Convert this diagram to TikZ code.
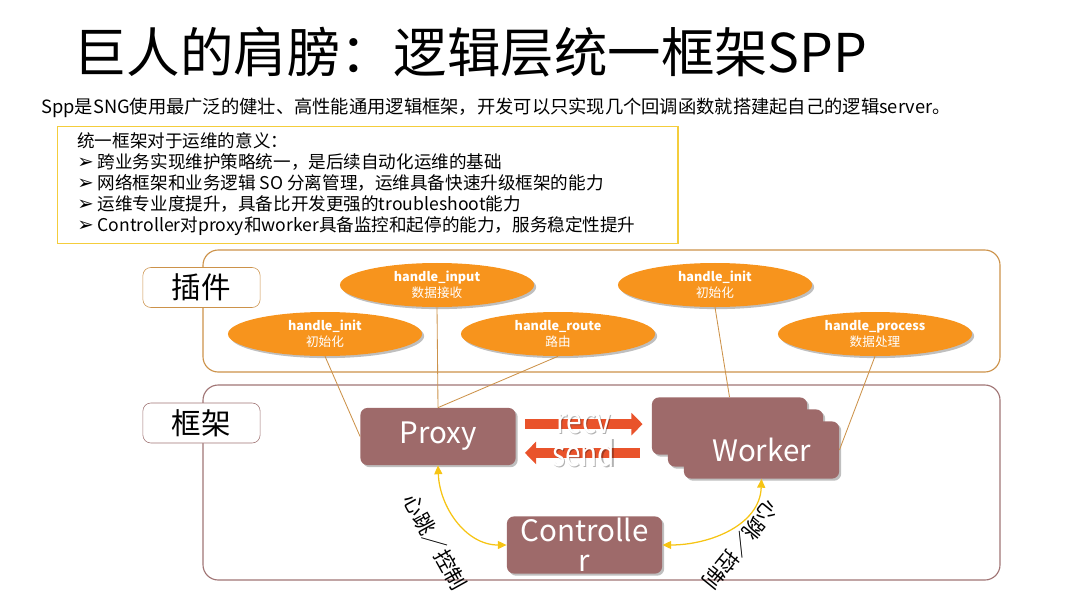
\documentclass[tikz,border=0pt]{standalone}
\usepackage{fontspec}
\setmainfont{Noto Sans CJK SC}
\newfontfamily\symfont{DejaVu Sans}
\usetikzlibrary{positioning,arrows.meta,shapes.geometric,shadows}
\definecolor{brick}{RGB}{158,106,106}
\definecolor{amber}{RGB}{247,148,29}
\definecolor{plugline}{RGB}{204,146,74}
\definecolor{frameline}{RGB}{160,116,116}
\definecolor{gold}{RGB}{244,205,60}
\definecolor{flowred}{RGB}{233,83,43}
\definecolor{beat}{RGB}{246,196,20}

\begin{document}
\begin{tikzpicture}[
  x=0.025cm, y=-0.025cm,
  softshadow/.style={drop shadow={shadow xshift=1.5pt, shadow yshift=-1.5pt, fill=black, opacity=0.25}},
  zone/.style={rounded corners=0.38cm, line width=0.8pt},
  tag/.style={draw, rounded corners=0.2cm, fill=white, minimum width=2.93cm, minimum height=1cm, font=\fontsize{21}{24}\selectfont},
  hook/.style={ellipse, fill=amber, text=white, minimum width=4.85cm, minimum height=1.1cm, inner sep=0pt, align=center, font=\fontsize{9}{11.5}\selectfont, softshadow},
  core/.style={rounded corners=0.18cm, fill=brick, text=white, minimum width=3.88cm, minimum height=1.43cm, inner sep=0pt, align=center, font=\fontsize{21}{21}\selectfont, softshadow},
  wire/.style={draw=plugline, line width=0.6pt},
  flow/.style={draw=flowred, line width=0.25cm, -{Triangle[length=0.28cm, width=0.55cm]}},
  flowtext/.style={text=white, inner sep=0pt, font=\fontsize{25}{25}\selectfont},
  flowshade/.style={flowtext, text=black, opacity=0.3, xshift=0.8pt, yshift=-0.8pt},
  beatline/.style={draw=beat, line width=0.9pt, {Triangle[length=2.2mm, width=2mm]}-{Triangle[length=2.2mm, width=2mm]}},
  beattext/.style={inner sep=0pt, font=\fontsize{15}{15}\selectfont}
]
\useasboundingbox (0,0) rectangle (1069,598);

% header
\node[anchor=west, inner sep=0pt, font=\fontsize{38}{40}\selectfont] (title) at (73,52) {巨人的肩膀：逻辑层统一框架SPP};
\node[anchor=west, inner sep=0pt, font=\fontsize{13}{15}\selectfont] (intro) at (41,108) {Spp是SNG使用最广泛的健壮、高性能通用逻辑框架，开发可以只实现几个回调函数就搭建起自己的逻辑server。};
\node[anchor=north west, draw=gold, line width=1pt, minimum width=15.5cm, minimum height=2.925cm] (meaning) at (57,126) {};
\node[anchor=north west, inner sep=0pt, align=left, font=\fontsize{12.5}{15}\selectfont] (meaningtext) at (77,132) {统一框架对于运维的意义：\\
{\symfont\fontsize{14}{15}\selectfont ➢} 跨业务实现维护策略统一，是后续自动化运维的基础\\
{\symfont\fontsize{14}{15}\selectfont ➢} 网络框架和业务逻辑 SO 分离管理，运维具备快速升级框架的能力\\
{\symfont\fontsize{14}{15}\selectfont ➢} 运维专业度提升，具备比开发更强的troubleshoot能力\\
{\symfont\fontsize{14}{15}\selectfont ➢} Controller对proxy和worker具备监控和起停的能力，服务稳定性提升};

% zones
\draw[zone, draw=plugline] (203,250) rectangle (1000,372);
\draw[zone, draw=frameline] (203,385) rectangle (1000,580);
\node[tag, draw=plugline] (plugtag) at (201.5,287.5) {插件};
\node[tag, draw=frameline] (frametag) at (201.5,423) {框架};

% plugins
\node[hook] (initL) at (325,334) {\textbf{handle\_init}\\初始化};
\node[hook] (input) at (437,285) {\textbf{handle\_input}\\数据接收};
\node[hook] (route) at (558,334) {\textbf{handle\_route}\\路由};
\node[hook] (initR) at (715,285) {\textbf{handle\_init}\\初始化};
\node[hook] (process) at (875,334) {\textbf{handle\_process}\\数据处理};

% framework
\node[core] (proxy) at (438,436.5) {Proxy};
\node[core] (wback) at (729.5,426) {};
\node[core] (wmid) at (745.5,438) {};
\node[core] (wfront) at (761.5,450) {Worker};
\node[core] (ctrl) at (584.5,545) {Controlle\\r};

\draw[wire] (initL.south) -- (proxy.west);
\draw[wire] (input.south) -- (proxy.north);
\draw[wire] (route.south) -- (proxy.north);
\draw[wire] (initR.south) -- (wback.north);
\draw[wire] (process.south) -- (wfront.east);

\coordinate (recvL) at ([yshift=0.31cm]proxy.east);
\coordinate (sendL) at ([yshift=-0.41cm]proxy.east);
\draw[flow, shorten <=0.225cm, shorten >=0.225cm] (recvL) -- (recvL -| wback.west)
  node[midway, flowshade] {\scalebox{0.8}[1]{recv}} node[midway, flowtext] (recv) {\scalebox{0.8}[1]{recv}};
\draw[flow, shorten <=0.3cm, shorten >=0.225cm] (sendL -| wback.west) -- (sendL)
  node[midway, flowshade] {\scalebox{0.8}[1]{send}} node[midway, flowtext] (send) {\scalebox{0.8}[1]{send}};

\draw[beatline] (proxy.south) to[out=-88, in=180] (ctrl.west);
\draw[beatline] (wfront.south) to[out=-92, in=0] (ctrl.east);
\node[beattext, rotate=-61] (beatL) at (435,542) {心跳／控制};
\node[beattext, rotate=-129] (beatR) at (741,545) {心跳／控制};
\end{tikzpicture}
\end{document}
